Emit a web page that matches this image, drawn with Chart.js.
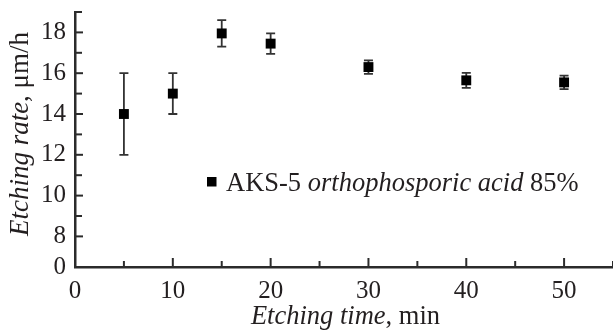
<!DOCTYPE html>
<html>
<head>
<meta charset="utf-8">
<script src="https://cdn.jsdelivr.net/npm/chart.js@4.4.1/dist/chart.umd.min.js"></script>
<style>
  html, body { margin: 0; padding: 0; background: #fff; }
  #wrap { width: 613px; height: 334px; position: relative; }
</style>
</head>
<body>
<div id="wrap"><canvas id="grafica"></canvas></div>
<script>
// datos: tiempo de grabado (min), velocidad (um/h) y su error
const tiempos = [5, 10, 15, 20, 30, 40, 50];
const velocidades = [14.0, 15.0, 17.95, 17.45, 16.3, 15.65, 15.55];
const errores = [2.0, 1.0, 0.65, 0.5, 0.33, 0.37, 0.33];

// eje Y cortado: el "0" se coloca justo debajo del 8
const yCero = 6.5;
const yTicks = [6.5, 8, 9, 10, 11, 12, 13, 14, 15, 16, 17, 18, 19];
const yEtiquetas = { 6.5: '0', 8: '8', 10: '10', 12: '12', 14: '14', 16: '16', 18: '18' };
const xTicks = [0, 5, 10, 15, 20, 25, 30, 35, 40, 45, 50, 55];

const colorTexto = '#231f20';
const colorEje = '#2b2b2b';
const fuente = '"Liberation Serif", "Times New Roman", serif';

// escribe trozos de texto con distinto estilo uno detras de otro
function textoMixto(ctx, trozos, x, y, centrado) {
  let total = 0;
  trozos.forEach(t => { ctx.font = t.font; total += ctx.measureText(t.txt).width; });
  let cx = centrado ? x - total / 2 : x;
  trozos.forEach(t => {
    ctx.font = t.font;
    ctx.fillText(t.txt, cx, y);
    cx += ctx.measureText(t.txt).width;
  });
}

const barrasError = {
  id: 'barrasError',
  beforeDatasetsDraw(chart) {
    const { ctx, scales: { x, y } } = chart;
    ctx.save();
    ctx.strokeStyle = '#333';
    ctx.lineWidth = 1.8;
    tiempos.forEach((t, i) => {
      const px = x.getPixelForValue(t);
      const arriba = y.getPixelForValue(velocidades[i] + errores[i]);
      const abajo = y.getPixelForValue(velocidades[i] - errores[i]);
      ctx.beginPath();
      ctx.moveTo(px, arriba); ctx.lineTo(px, abajo);
      ctx.moveTo(px - 4.5, arriba); ctx.lineTo(px + 4.5, arriba);
      ctx.moveTo(px - 4.5, abajo); ctx.lineTo(px + 4.5, abajo);
      ctx.stroke();
    });
    ctx.restore();
  }
};

const marcasYTextos = {
  id: 'marcasYTextos',
  afterDraw(chart) {
    const { ctx, chartArea, scales: { x, y } } = chart;
    ctx.save();
    // marcas hacia dentro
    ctx.strokeStyle = colorEje;
    ctx.lineWidth = 2;
    xTicks.forEach(v => {
      const px = x.getPixelForValue(v);
      const largo = v % 10 === 0 ? 9 : 6;
      ctx.beginPath();
      ctx.moveTo(px, chartArea.bottom);
      ctx.lineTo(px, chartArea.bottom - largo);
      ctx.stroke();
    });
    yTicks.forEach(v => {
      if (v === yCero) return;
      const py = y.getPixelForValue(v);
      const largo = v % 2 === 0 ? 8 : 7;
      ctx.beginPath();
      ctx.moveTo(chartArea.left, py);
      ctx.lineTo(chartArea.left + largo, py);
      ctx.stroke();
    });

    ctx.fillStyle = colorTexto;
    ctx.textBaseline = 'alphabetic';
    ctx.textAlign = 'left';

    // titulo eje X
    textoMixto(ctx, [
      { txt: 'Etching time', font: 'italic 26.5px ' + fuente },
      { txt: ', min', font: '26.5px ' + fuente }
    ], 345.5, 324, true);

    // titulo eje Y
    ctx.save();
    ctx.translate(28, 134);
    ctx.rotate(-Math.PI / 2);
    textoMixto(ctx, [
      { txt: 'Etching rate', font: 'italic 27px ' + fuente },
      { txt: ', \u03bcm/h', font: '27px ' + fuente }
    ], 0, 0, true);
    ctx.restore();

    // leyenda
    ctx.fillStyle = '#000';
    ctx.fillRect(207, 177, 9.5, 9.5);
    ctx.fillStyle = colorTexto;
    textoMixto(ctx, [
      { txt: 'AKS-5 ', font: '26.5px ' + fuente },
      { txt: 'orthophosporic acid', font: 'italic 26.5px ' + fuente },
      { txt: ' 85%', font: '26.5px ' + fuente }
    ], 226, 191, false);
    ctx.restore();
  }
};

const ctx = document.getElementById('grafica').getContext('2d');
new Chart(ctx, {
  type: 'scatter',
  data: {
    datasets: [{
      label: 'AKS-5 orthophosporic acid 85%',
      data: tiempos.map((t, i) => ({ x: t, y: velocidades[i] })),
      pointStyle: 'rect',
      pointRadius: 7,
      pointHoverRadius: 7,
      backgroundColor: '#000',
      borderWidth: 0
    }]
  },
  options: {
    responsive: true,
    maintainAspectRatio: false,
    animation: false,
    layout: { autoPadding: false, padding: { top: 12, right: 0, left: 0, bottom: 0 } },
    plugins: {
      legend: { display: false },
      tooltip: { enabled: false }
    },
    scales: {
      x: {
        type: 'linear',
        min: 0,
        max: 55,
        grid: { display: false, drawTicks: false },
        border: { display: true, color: colorEje, width: 2.5 },
        afterBuildTicks: s => { s.ticks = xTicks.map(v => ({ value: v })); },
        afterFit: s => { s.height = 67; s.paddingLeft = 0; s.paddingRight = 0; },
        ticks: {
          autoSkip: false,
          maxRotation: 0,
          padding: 9,
          color: colorTexto,
          font: { family: fuente, size: 25 },
          callback: v => (v % 10 === 0 ? String(v) : '')
        }
      },
      y: {
        min: yCero,
        max: 19,
        grid: { display: false, drawTicks: false },
        border: { display: true, color: colorEje, width: 2.5 },
        afterBuildTicks: s => { s.ticks = yTicks.map(v => ({ value: v })); },
        afterFit: s => { s.width = 75; s.paddingTop = 0; s.paddingBottom = 0; },
        ticks: {
          autoSkip: false,
          padding: 9,
          color: colorTexto,
          font: { family: fuente, size: 25 },
          callback: v => (yEtiquetas[v] !== undefined ? yEtiquetas[v] : '')
        }
      }
    }
  },
  plugins: [barrasError, marcasYTextos]
});
</script>
</body>
</html>
